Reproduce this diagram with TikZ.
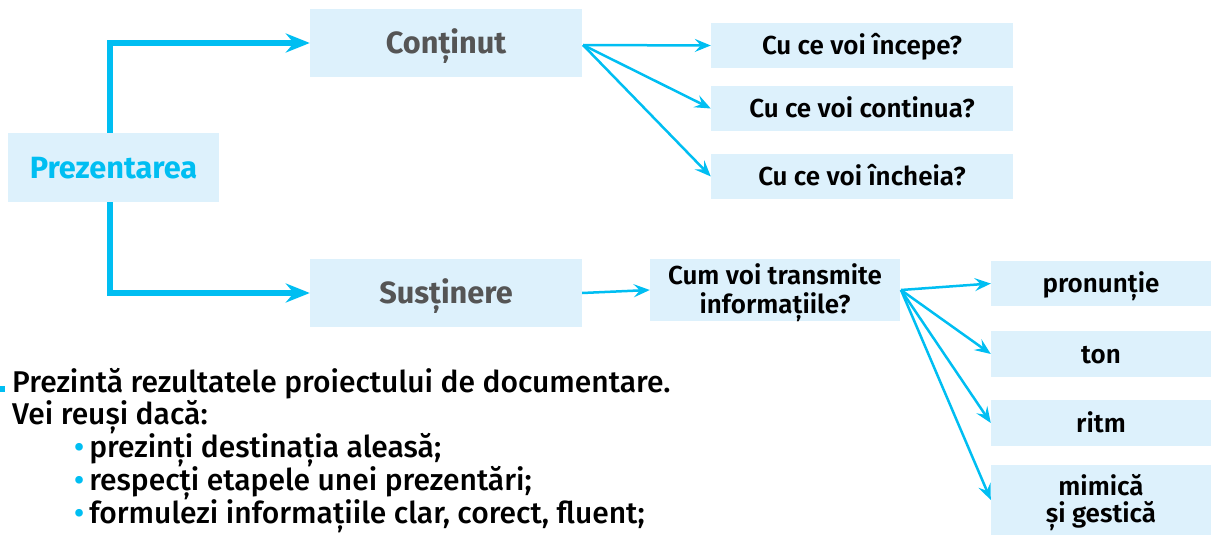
\documentclass[tikz,border=0pt]{standalone}
\usepackage{fontspec}
\setmainfont{Fira Sans}
\newfontfamily\semib{Fira Sans SemiBold}
\newfontfamily\medf{Fira Sans Medium}
\usetikzlibrary{arrows.meta}
\definecolor{boxfill}{HTML}{DDF1FC}
\definecolor{arrblue}{HTML}{00BEF2}
\definecolor{graytxt}{HTML}{555555}
\tikzset{
  bx/.style={fill=boxfill, draw=none, inner sep=0pt, align=center},
  small/.style={font=\fontsize{26}{29}\selectfont\semib, text height=18pt, text depth=0pt},
  big/.style={font=\fontsize{30.7}{32}\selectfont\bfseries, text height=21pt, text depth=0pt},
  thick arr/.style={draw=arrblue, line width=5.5pt, -{Stealth[length=24pt,width=19pt,inset=8pt]}},
  thin arr/.style={draw=arrblue, line width=2.5pt, -{Stealth[length=16pt,width=13pt,inset=6pt]}},
  body/.style={font=\fontsize{30}{32}\selectfont\medf, anchor=west, inner sep=0pt},
}
\begin{document}
\begin{tikzpicture}[x=1pt,y=-1pt]
\useasboundingbox (0,0) rectangle (1211,535);
% boxes
\node[bx, big, text=arrblue, minimum width=211pt, minimum height=69pt] (prez) at (113.5,167.5) {Prezentarea};
\node[bx, big, text=graytxt, minimum width=272pt, minimum height=68pt] (cont) at (446,43) {Conținut};
\node[bx, big, text=graytxt, minimum width=272pt, minimum height=68pt] (sust) at (446,293) {Susținere};
\node[bx, small, minimum width=302pt, minimum height=45pt] (c1) at (862,45.5) {Cu ce voi începe?};
\node[bx, small, minimum width=302pt, minimum height=45pt] (c2) at (862,108.5) {Cu ce voi continua?};
\node[bx, small, minimum width=302pt, minimum height=45pt] (c3) at (862,176.5) {Cu ce voi încheia?};
\node[bx, small, minimum width=250pt, minimum height=62pt, text height=47pt] (cum) at (775,290) {Cum voi transmite\\informațiile?};
\node[bx, small, minimum width=220pt, minimum height=45pt] (p1) at (1101,283.5) {pronunție};
\node[bx, small, minimum width=220pt, minimum height=46pt] (p2) at (1101,354) {ton};
\node[bx, small, minimum width=220pt, minimum height=46pt] (p3) at (1101,423) {ritm};
\node[bx, small, minimum width=220pt, minimum height=70pt, font=\fontsize{26}{27}\selectfont\semib, text height=45pt] (p4) at (1101,500) {mimică\\și gestică};
% thick elbow connectors
\coordinate (vx) at (110,0);
\draw[thick arr] (prez.north -| vx) |- (cont.west);
\draw[thick arr] (prez.south -| vx) |- (sust.west);
% thin connectors
\coordinate (co) at (583,45);
\draw[thin arr] (co) -- (c1.west);
\draw[thin arr] (co) -- (c2.west);
\draw[thin arr] (co) -- (c3.west);
\draw[thin arr] (sust.east) -- (cum.west);
\coordinate (cu) at (901,290);
\draw[thin arr] (cu) -- (p1.west);
\draw[thin arr] (cu) -- (p2.west);
\draw[thin arr] (cu) -- (p3.west);
\draw[thin arr] (cu) -- (p4.west);
% text
\fill[arrblue] (0,386) rectangle (5,392);
\node[body] (t1) at (12,384) {Prezintă rezultatele proiectului de documentare.};
\node[body] (t2) at (12,417) {Vei reuși dacă:};
\node[body] (b1) at (74,450) {\textcolor{arrblue}{\textbullet}\,prezinți destinația aleasă;};
\node[body] (b2) at (74,483) {\textcolor{arrblue}{\textbullet}\,respecți etapele unei prezentări;};
\node[body] (b3) at (74,516) {\textcolor{arrblue}{\textbullet}\,formulezi informațiile clar, corect, fluent;};
\end{tikzpicture}
\end{document}
